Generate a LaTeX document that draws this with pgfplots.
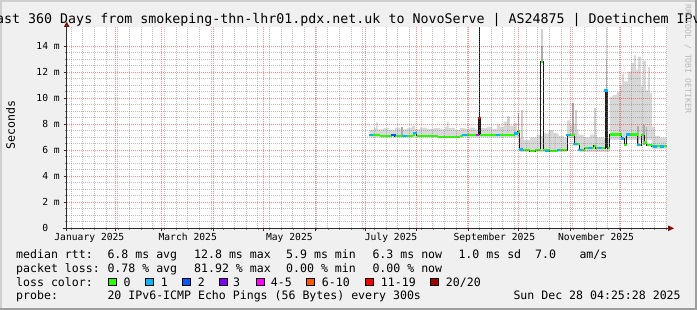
\documentclass[border=0pt]{standalone}
\usepackage{pgfplots}
\pgfplotsset{compat=1.18}
\usepackage{fontspec}
\setmainfont{DejaVu Sans Mono}
\newcommand{\titlefont}{\fontsize{13.3}{15}\selectfont}
\newcommand{\legfont}{\fontsize{11.57}{13}\selectfont}
\newcommand{\axfont}{\fontsize{9.68}{11}\selectfont}
\newcommand{\wmfont}{\fontsize{8.2}{9}\selectfont}
\definecolor{bgc}{HTML}{F0F0F0}
\definecolor{shadea}{HTML}{CFCFCF}
\definecolor{shadeb}{HTML}{9E9E9E}
\definecolor{smoke}{HTML}{D8D8D8}
\definecolor{lc0}{HTML}{26FF00}
\definecolor{lc1}{HTML}{00B8FF}
\definecolor{lc2}{HTML}{0059FF}
\definecolor{lc3}{HTML}{7E00FF}
\definecolor{lc5}{HTML}{FF00FF}
\definecolor{lc10}{HTML}{FF5500}
\definecolor{lc19}{HTML}{FF0000}
\definecolor{lc20}{HTML}{A10000}
\definecolor{axisc}{HTML}{2C2C2C}
\definecolor{arrowc}{HTML}{7F1010}
\begin{document}
\begin{tikzpicture}
\useasboundingbox (0,0) rectangle (697pt,310pt);
\clip (0,0) rectangle (697pt,310pt);
\fill[bgc] (0,0) rectangle (697pt,310pt);
\fill[shadea] (0,308pt) rectangle (697pt,310pt);
\fill[shadea] (0,0) rectangle (2pt,310pt);
\fill[shadeb] (0,0) rectangle (697pt,2pt);
\fill[shadeb] (695pt,0) rectangle (697pt,310pt);

\node[font=\titlefont, anchor=base, inner sep=0pt] at (348.5pt,286.7pt) {Last 360 Days from smokeping-thn-lhr01.pdx.net.uk to NovoServe | AS24875 | Doetinchem IPv6};
\node[rotate=-90, font=\wmfont, text=gray!55, inner sep=0pt] at (688pt,251pt) {RRDTOOL / TOBI OETIKER};
\node[rotate=90, font=\legfont, inner sep=0pt] at (10.5pt,185pt) {Seconds};

\begin{axis}[
  at={(66.7pt,81.7pt)}, anchor=south west,
  scale only axis, width=600pt, height=201.5pt,
  xmin=1.9, xmax=361.9, ymin=0, ymax=15.5,
  axis background/.style={fill=white},
  axis x line*=bottom, axis y line*=left,
  axis line style={draw=axisc, line width=1pt},
  axis on top,
  xtick={31,59,90,120,151,181,212,243,273,304,334},
  xticklabels={},
  minor xtick={4.6,11.6,...,361},
  ytick={0,2,...,14},
  yticklabels={0\phantom{xx},2 m,4 m,6 m,8 m,10 m,12 m,14 m},
  minor y tick num=3,
  grid=both,
  major grid style={draw=red, opacity=0.45, line width=0.8pt, dash pattern=on 1pt off 1pt},
  minor grid style={draw=gray, opacity=0.5, line width=0.8pt, dash pattern=on 1pt off 1pt},
  tick align=outside, major tick length=3pt, minor tick length=1.5pt,
  major tick style={draw=axisc, line width=0.8pt},
  minor tick style={draw=gray, line width=0.6pt},
  yticklabel style={font=\axfont, anchor=east, inner sep=0pt, xshift=-3.7pt},
  extra x ticks={15.5,74.5,135.5,196.5,258.5,319.5},
  extra x tick labels={January 2025,March 2025,May 2025,July 2025,September 2025,November 2025},
  extra x tick style={grid=none, major tick length=0pt, xticklabel style={font=\axfont, anchor=base, inner sep=0pt, yshift=-12.7pt}},
  unbounded coords=jump,
]
% smoke (upper envelope)
\addplot[const plot, fill=smoke, draw=none] coordinates {
(183.8,7.55) (186,7.7) (187.5,8.15) (188.5,7.6) (192,7.7) (195,7.55) (199,7.75) (202,7.6) (206,7.7) (209,7.9) (211,7.6) (214,7.75) (218,7.65) (222,7.7) (226,7.6) (229,7.8) (230,8.2) (231,7.7) (235,7.55) (238,7.7) (241,7.65) (244,7.75) (247,7.6) (250,7.7) (254,7.8) (257,7.65) (260,8.0) (262,7.8) (264,8.2) (266,8.6) (268,7.9) (270,8.1) (272,7.5) (273.8,7.0) (276,6.8) (280,7.0) (284,7.2) (286,7.1) (288,7.3) (291,7.55) (294,7.3) (297,7.1) (300,7.0) (302.2,8.3) (304,7.9) (306,8.0) (307,7.6) (309,7.2) (312,7.0) (316,7.2) (320,7.0) (324,6.9) (327.8,10.1) (329.6,10.25) (332,10.5) (333.8,11.0) (335,11.9) (336.2,11.3) (338.6,12.05) (340.4,12.7) (342.2,13.3) (343.4,12.2) (344.6,13.2) (346.4,10.9) (347.6,12.9) (349.4,10.6) (350.6,12.4) (351.8,10.4) (353,7.8) (354.8,7.1) (358,6.95) (361.9,6.95)
} \closedcycle;
% below the smoke
\addplot[const plot, fill=white, draw=none] coordinates {
(183.8,7.0) (249.9,7.0) (273.8,5.85) (302.2,6.95) (306.6,6.3) (309.6,5.85) (327.8,6.8) (352.8,6.1) (361.9,6.1)
} \closedcycle;
% darker smoke
\addplot[draw=gray!65, line width=1.6pt] table[row sep=\\] {
x y\\ 203.2 7.15\\ 203.2 7.8\\ nan nan\\ 272.9 7.3\\ 272.9 8.9\\ nan nan\\ 305.6 7.2\\ 305.6 9.6\\ nan nan\\
344.6 6.4\\ 344.6 7.9\\ nan nan\\ 348.4 6.4\\ 348.4 7.95\\ nan nan\\ 349.8 6.3\\ 349.8 7.8\\ nan nan\\
325.85 10.6\\ 325.85 13.0\\ nan nan\\ 287.05 12.8\\ 287.05 14.0\\
};
\addplot[draw=gray!38, line width=1.6pt] table[row sep=\\] {
x y\\ 274.9 6.1\\ 274.9 9.1\\ nan nan\\ 307.3 6.5\\ 307.3 9.1\\ nan nan\\ 318.8 6.2\\ 318.8 9.25\\ nan nan\\
291.8 6.0\\ 291.8 7.5\\ nan nan\\ 295 6.0\\ 295 7.3\\ nan nan\\ 266.6 7.3\\ 266.6 8.6\\ nan nan\\
325.85 13.0\\ 325.85 15.4\\ nan nan\\ 287.05 14.0\\ 287.05 15.3\\
};
\addplot[draw=black!85, line width=2.2pt] table[row sep=\\] {
x y\\ 325.85 6.2\\ 325.85 10.6\\ nan nan\\ 249.45 7.2\\ 249.45 8.5\\
};
\addplot[draw=black, line width=0.8pt] table[row sep=\\] {
x y\\ 249.8 7.2\\ 249.8 15.45\\
};
% median (thin dark line)
\addplot[const plot, draw=black!90, line width=0.8pt] coordinates {
(183.8,7.15) (190.0,7.12) (196.8,7.15) (198.8,7.1) (203.4,7.12) (205.8,7.1) (209.6,7.15) (210.6,7.35) (211.9,7.12) (218.0,7.12) (224.6,7.05) (231.8,7.05) (237.8,7.1) (239.6,7.2) (243.8,7.15) (248.3,7.2) (249.1,8.46) (249.9,7.15) (255.8,7.15) (258.2,7.18) (264.8,7.2) (270.8,7.3) (272.6,7.45) (273.8,6.05) (279.8,5.95) (283.0,6.0) (286.3,12.8) (287.8,6.0) (291.8,5.95) (296.6,6.0) (302.2,7.2) (306.6,6.5) (309.6,6.0) (312.8,6.15) (318.0,6.35) (319.4,6.15) (325.1,10.6) (326.6,6.15) (327.8,7.22) (334.8,6.9) (336.4,6.4) (337.8,7.22) (344.6,6.4) (346.6,7.15) (348.4,6.6) (349.8,6.4) (352.8,6.3) (361.9,6.3)
};
% median, loss 0 (green)
\addplot[jump mark left, draw=lc0, line width=2.2pt] coordinates {
(183.8,7.15) (190.0,7.12) (196.8,7.15) (198.8,7.1) (203.4,7.12) (205.8,7.1) (209.6,7.15) (210.6,7.35) (211.9,7.12) (218.0,7.12) (224.6,7.05) (231.8,7.05) (237.8,7.1) (239.6,7.2) (243.8,7.15) (248.3,7.2) (249.1,8.46) (249.9,7.15) (255.8,7.15) (258.2,7.18) (264.8,7.2) (270.8,7.3) (272.6,7.45) (273.8,6.05) (279.8,5.95) (283.0,6.0) (286.3,12.8) (287.8,6.0) (291.8,5.95) (296.6,6.0) (302.2,7.2) (306.6,6.5) (309.6,6.0) (312.8,6.15) (318.0,6.35) (319.4,6.15) (325.1,10.6) (326.6,6.15) (327.8,7.22) (334.8,6.9) (336.4,6.4) (337.8,7.22) (344.6,6.4) (346.6,7.15) (348.4,6.6) (349.8,6.4) (352.8,6.3) (361.9,6.3)
};
% loss markers
\addplot[only marks, mark=-, mark size=1.8pt, mark options={draw=lc1, line width=2.3pt}] coordinates {
(184.3,7.15) (204.2,7.12) (205.2,7.1) (210.9,7.35) (239.9,7.2) (241,7.15) (260.6,7.18) (271.5,7.3) (274.4,6.05) (289.9,5.95) (296.9,6.0) (302.8,7.2) (307.0,6.5) (309.9,6.0) (315.8,6.15) (321.8,6.15) (325.6,10.6) (335.4,6.9) (338.5,7.22) (345.0,6.4) (354.8,6.3) (359.2,6.3)
};
\addplot[only marks, mark=-, mark size=1.8pt, mark options={draw=lc2, line width=2.3pt}] coordinates {(197.4,7.15) (198.4,7.15)};
\addplot[only marks, mark=-, mark size=1.5pt, mark options={draw=lc5, line width=2.3pt}] coordinates {(248.6,7.2)};
\addplot[only marks, mark=-, mark size=1.5pt, mark options={draw=lc19, line width=2.3pt}] coordinates {(249.4,8.46)};
\end{axis}

% axis extensions and arrows
\draw[axisc, line width=1pt] (62.7pt,81.7pt) -- (668.5pt,81.7pt);
\fill[arrowc] (674pt,81.7pt) -- (668pt,84.6pt) -- (668pt,78.8pt) -- cycle;
\draw[axisc, line width=1pt] (66.7pt,79pt) -- (66.7pt,284pt);
\fill[arrowc] (66.7pt,288.3pt) -- (63.8pt,283pt) -- (69.6pt,283pt) -- cycle;

% legend
\begin{scope}[every node/.style={font=\legfont, anchor=base west, inner sep=0pt}]
\node at (16pt,51.5pt) {median rtt:};
\node at (107.3pt,51.5pt) {6.8 ms avg};
\node at (194pt,51.5pt) {12.8 ms max};
\node at (286pt,51.5pt) {5.9 ms min};
\node at (372.3pt,51.5pt) {6.3 ms now};
\node at (458.3pt,51.5pt) {1.0 ms sd};
\node at (535pt,51.5pt) {7.0};
\node at (579.3pt,51.5pt) {am/s};
\node at (16pt,37.6pt) {packet loss:};
\node at (107.3pt,37.6pt) {0.78 \% avg};
\node at (194pt,37.6pt) {81.92 \% max};
\node at (286pt,37.6pt) {0.00 \% min};
\node at (372.3pt,37.6pt) {0.00 \% now};
\node at (16pt,23.8pt) {loss color:};
\node at (123.3pt,23.8pt) {0};
\node at (160.7pt,23.8pt) {1};
\node at (197.7pt,23.8pt) {2};
\node at (233pt,23.8pt) {3};
\node at (270.7pt,23.8pt) {4-5};
\node at (321.7pt,23.8pt) {6-10};
\node at (380.7pt,23.8pt) {11-19};
\node at (445.7pt,23.8pt) {20/20};
\node at (16pt,10pt) {probe:};
\node at (107.3pt,10pt) {20 IPv6-ICMP Echo Pings (56 Bytes) every 300s};
\node at (513.3pt,10pt) {Sun Dec 28 04:25:28 2025};
\end{scope}
\foreach \xx/\cc in {108.3/lc0,145.7/lc1,182.7/lc2,219.3/lc3,256.7/lc5,306.7/lc10,365.7/lc19,430.7/lc20}{
  \filldraw[fill=\cc, draw=black, line width=0.8pt] (\xx pt,24.2pt) rectangle ++(7.6pt,7.6pt);
}
\end{tikzpicture}
\end{document}
